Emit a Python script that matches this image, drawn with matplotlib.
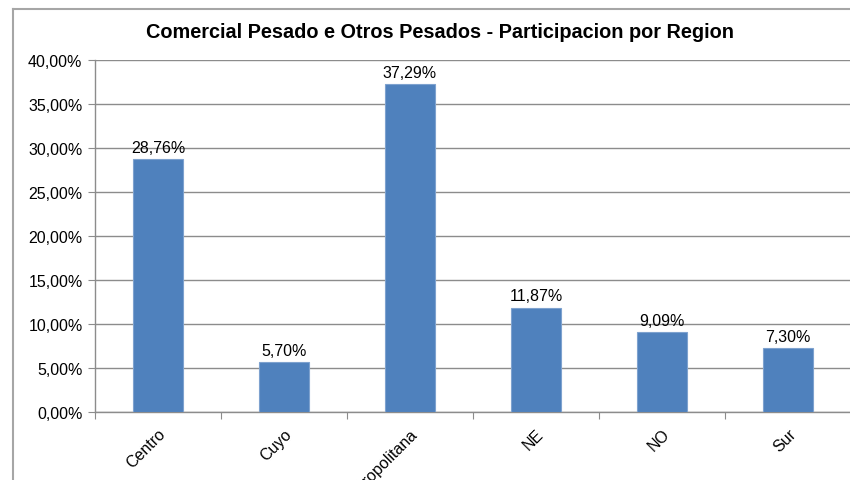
import matplotlib
matplotlib.use("Agg")
import matplotlib.pyplot as plt
from matplotlib.lines import Line2D
import numpy as np

categories = ["Centro", "Cuyo", "Metropolitana", "NE", "NO", "Sur"]
values = [28.76, 5.70, 37.29, 11.87, 9.09, 7.30]
yticks = [0, 5, 10, 15, 20, 25, 30, 35, 40]
title = "Comercial Pesado e Otros Pesados - Participacion por Region"

plt.rcParams['font.family'] = ['Liberation Sans', 'DejaVu Sans']

fig = plt.figure(figsize=(8.5, 4.81), dpi=100)
ax = fig.add_axes([95/850, 1-413/481, 756/850, 352/481])

x = np.arange(len(categories))
bar_color = '#4F81BD'
ax.bar(x, values, width=0.4, color=bar_color, edgecolor='#7EA2CF', linewidth=0.8, zorder=3)

for xi, v in zip(x, values):
    ax.annotate(f"{v:.2f}%".replace('.', ','), (xi, v), xytext=(0, 3),
                textcoords='offset points', ha='center', va='bottom', fontsize=11.5, color='#000000')

ax.set_xlim(-0.5, len(categories) - 0.5)
ax.set_ylim(0, 40)
ax.set_yticks(yticks)
ax.set_yticklabels([f"{t:.2f}%".replace('.', ',') for t in yticks], fontsize=11.5)
ax.yaxis.grid(True, color='#8C8C8C', linewidth=1.0, zorder=0)
ax.set_axisbelow(True)

# category ticks at boundaries
ax.set_xticks(np.arange(len(categories) + 1) - 0.5, minor=False)
ax.set_xticklabels([])
ax.tick_params(axis='x', which='major', length=5, color='#8C8C8C', direction='out')
ax.set_xticks(x, minor=True)
ax.set_xticklabels(categories, minor=True, rotation=45, ha='right', va='top',
                   rotation_mode='anchor', fontsize=11.5)
ax.tick_params(axis='x', which='minor', length=0, pad=10)
ax.tick_params(axis='y', length=5, color='#8C8C8C', pad=4)

for s in ['top', 'right']:
    ax.spines[s].set_visible(False)
for s in ['left', 'bottom']:
    ax.spines[s].set_color('#8C8C8C')
    ax.spines[s].set_linewidth(1.0)

fig.text(440/850, 1-32/481, title, ha='center', va='center', fontsize=14.3, fontweight='bold')

# outer chart frame
fig.add_artist(Line2D([13/850, 1.0], [1-10/481, 1-10/481], transform=fig.transFigure,
                      color='#A6A6A6', linewidth=1.5))
fig.add_artist(Line2D([13/850, 13/850], [0, 1-10/481], transform=fig.transFigure,
                      color='#A6A6A6', linewidth=1.5))

fig.savefig("out.png", dpi=100)
